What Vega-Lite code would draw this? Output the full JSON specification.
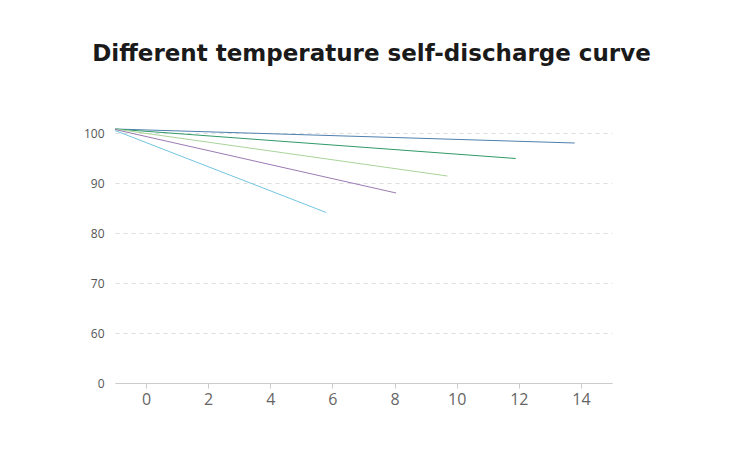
{
  "$schema": "https://vega.github.io/schema/vega-lite/v6.json",
  "autosize": "none",
  "width": 497,
  "height": 260,
  "padding": {"left": 115, "top": 123, "right": 138, "bottom": 89},
  "background": "white",
  "title": {
    "text": "Different temperature self-discharge curve",
    "font": "DejaVu Sans",
    "fontSize": 23,
    "fontWeight": "bold",
    "color": "#1a1a1a",
    "anchor": "middle",
    "dx": 8,
    "offset": 57
  },
  "config": {"view": {"stroke": null}},
  "data": {
    "values": [
      {"series": "A", "x": -1, "y": 100.8},
      {"series": "A", "x": 13.8, "y": 98.0},
      {"series": "B", "x": -1, "y": 100.8},
      {"series": "B", "x": 11.9, "y": 94.9},
      {"series": "C", "x": -1, "y": 100.8},
      {"series": "C", "x": 9.7, "y": 91.4},
      {"series": "D", "x": -1, "y": 100.7},
      {"series": "D", "x": 8.05, "y": 88.0},
      {"series": "E", "x": -1, "y": 100.5},
      {"series": "E", "x": 5.8, "y": 84.1}
    ]
  },
  "mark": {"type": "line", "strokeWidth": 1, "clip": false},
  "encoding": {
    "x": {
      "field": "x",
      "type": "quantitative",
      "scale": {"domain": [-1, 15], "nice": false, "zero": false},
      "axis": {
        "title": null,
        "values": [0, 2, 4, 6, 8, 10, 12, 14],
        "grid": false,
        "domainColor": "#cccccc",
        "tickColor": "#cccccc",
        "tickSize": 5,
        "labelFont": "Open Sans",
        "labelFontSize": 16,
        "labelColor": "#666666",
        "labelPadding": 3
      }
    },
    "y": {
      "field": "y",
      "type": "quantitative",
      "scale": {"domain": [50, 102], "nice": false, "zero": false},
      "axis": {
        "title": null,
        "values": [50, 60, 70, 80, 90, 100],
        "labelExpr": "datum.value == 50 ? '0' : datum.label",
        "domain": false,
        "ticks": false,
        "grid": true,
        "gridColor": "#dedede",
        "gridDash": [4, 4],
        "labelFont": "Open Sans",
        "labelFontSize": 12,
        "labelColor": "#555555",
        "labelPadding": 11
      }
    },
    "color": {
      "field": "series",
      "type": "nominal",
      "scale": {
        "domain": ["A", "B", "C", "D", "E"],
        "range": ["#4f7fae", "#2f9a67", "#a9d39a", "#9a7bb3", "#73c5e0"]
      },
      "legend": null
    }
  }
}
